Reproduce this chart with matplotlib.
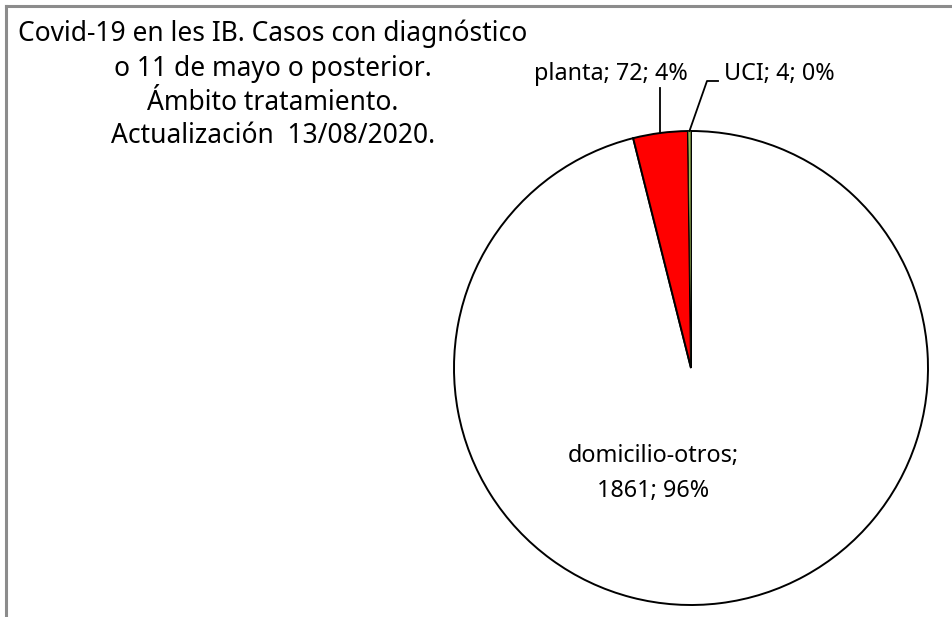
import numpy as np
import matplotlib
matplotlib.use("Agg")
import matplotlib.pyplot as plt
from matplotlib.lines import Line2D

categories = ["domicilio-otros", "planta", "UCI"]
values = [1861, 72, 4]
colors = ["#FFFFFF", "#FF0000", "#9BBB59"]
title_lines = ["Covid-19 en les IB. Casos con diagnóstico",
               "o 11 de mayo o posterior.",
               "Ámbito tratamiento.",
               "Actualización  13/08/2020."]

plt.rcParams['font.family'] = ['Noto Sans', 'DejaVu Sans']
W, H = 952, 617
fig = plt.figure(figsize=(W / 100, H / 100), dpi=100)

# gray frame (only top and left visible in the crop)
fig.add_artist(Line2D([6 / W, 1], [1 - 6 / H, 1 - 6 / H], color="#8c8c8c", lw=2.2))
fig.add_artist(Line2D([6 / W, 6 / W], [0, 1 - 6 / H], color="#8c8c8c", lw=2.2))

cx, cy, r = 691, 368, 237
ax = fig.add_axes([(cx - r) / W, (H - cy - r) / H, 2 * r / W, 2 * r / H])
wedges, _ = ax.pie(values, colors=colors, startangle=90, counterclock=False,
                   wedgeprops=dict(edgecolor="black", linewidth=1.4))
wedges[2].set_linewidth(0.5)
wedges[2].set_zorder(wedges[2].get_zorder() + 1)
ax.set_xlim(-1, 1)
ax.set_ylim(-1, 1)
ax.axis("off")

total = sum(values)
pct = [round(v / total * 100) for v in values]
labels = [f"{c}; {v}; {p}%" for c, v, p in zip(categories, values, pct)]

def mid(w):
    a = np.deg2rad((w.theta1 + w.theta2) / 2)
    return np.cos(a), np.sin(a)

fs = 16.8
# planta
mx, my = mid(wedges[1])
ax.plot([mx, mx], [my, 1.181], color="black", lw=1.3, clip_on=False)
ax.text(-0.338, 1.24, labels[1], ha="center", va="center", fontsize=fs)
# UCI
ux, uy = mid(wedges[2])
ax.plot([ux, 0.0675, 0.114], [uy, 1.211, 1.211], color="black", lw=1.3, clip_on=False)
ax.text(0.139, 1.24, labels[2], ha="left", va="center", fontsize=fs)
# domicilio
ax.text(-0.16, -0.445, f"{categories[0]};\n{values[0]}; {pct[0]}%", ha="center",
        va="center", fontsize=fs, linespacing=1.6)

for line, y in zip(title_lines, [34, 69, 102.5, 136]):
    fig.text(273 / W, 1 - y / H, line, ha="center", va="center", fontsize=19)

fig.savefig("out.png", dpi=100)
